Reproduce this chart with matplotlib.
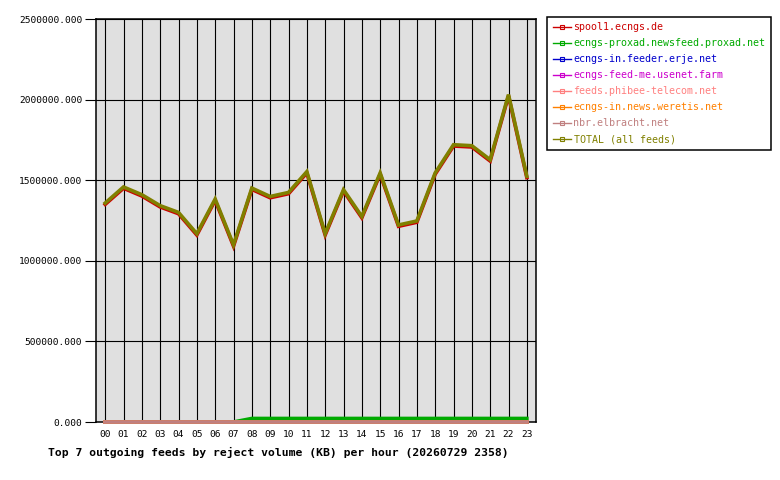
"""Hourly reject volume per outgoing feed, innreport style."""

import matplotlib

matplotlib.use("Agg")
import matplotlib.pyplot as plt
from matplotlib.lines import Line2D
from matplotlib.ticker import FuncFormatter


HOURS = list(range(24))
HOUR_LABELS = [f"{h:02d}" for h in HOURS]

FEEDS = [
    "spool1.ecngs.de",
    "ecngs-proxad.newsfeed.proxad.net",
    "ecngs-in.feeder.erje.net",
    "ecngs-feed-me.usenet.farm",
    "feeds.phibee-telecom.net",
    "ecngs-in.news.weretis.net",
    "nbr.elbracht.net",
    "TOTAL (all feeds)",
]
COLORS = ["#cc0000", "#00aa00", "#0000cc", "#cc00cc",
          "#ff8080", "#ff8000", "#c08080", "#808000"]

total = [1358000, 1458000, 1410000, 1342000, 1300000, 1168000, 1383000, 1099000,
         1451000, 1399000, 1424000, 1553000, 1168000, 1441000, 1275000, 1545000,
         1222000, 1247000, 1545000, 1720000, 1714000, 1627000, 2031000, 1524000]
spool1 = [1350000, 1450000, 1402000, 1334000, 1292000, 1160000, 1375000, 1091000,
          1443000, 1391000, 1416000, 1545000, 1160000, 1433000, 1267000, 1537000,
          1214000, 1239000, 1537000, 1712000, 1706000, 1619000, 2023000, 1516000]
proxad = [0, 0, 0, 0, 0, 0, 0, 0,
          22000, 22000, 22000, 22000, 22000, 22000, 22000, 22000,
          22000, 22000, 22000, 22000, 22000, 22000, 22000, 22000]
erje = [0] * 24
usenet_farm = [0] * 24
phibee = [0] * 24
weretis = [0] * 24
elbracht = [0] * 24

SERIES = [spool1, proxad, erje, usenet_farm, phibee, weretis, elbracht, total]
Y_TICKS = [0, 500000, 1000000, 1500000, 2000000, 2500000]

MONO = "DejaVu Sans Mono"

fig = plt.figure(figsize=(7.8, 4.8), dpi=100, facecolor="white")
ax = fig.add_axes([96 / 780, 58 / 480, 440 / 780, 403 / 480])
ax.set_facecolor("#e0e0e0")

for values, color in zip(SERIES, COLORS):
    ax.plot(HOURS, values, color=color, linewidth=2.6, clip_on=False,
            solid_joinstyle="miter", zorder=3)

ax.set_xlim(-0.5, 23.5)
ax.set_ylim(0, 2500000)
ax.set_xticks(HOURS)
ax.set_xticklabels(HOUR_LABELS, fontfamily=MONO, fontsize=6.8)
ax.set_yticks(Y_TICKS)
ax.yaxis.set_major_formatter(FuncFormatter(lambda v, _: f"{v:.3f}"))
for label in ax.get_yticklabels():
    label.set_fontfamily(MONO)
    label.set_fontsize(6.8)
ax.tick_params(axis="x", length=0, pad=6)
ax.tick_params(axis="y", length=8, width=0.8, pad=2, color="black")
ax.grid(True, color="black", linewidth=0.8)
ax.set_axisbelow(True)
for spine in ax.spines.values():
    spine.set_color("black")
    spine.set_linewidth(1.1)
    spine.set_zorder(2.5)

handles = [
    Line2D([0], [0], color=c, linewidth=1.0, marker="s", markersize=2.5,
           markerfacecolor="none", markeredgewidth=0.8)
    for c in COLORS
]
leg = fig.legend(handles, FEEDS, loc="upper left",
                 bbox_to_anchor=(547 / 780, 1 - 17 / 480),
                 prop={"family": MONO, "size": 7.2},
                 frameon=True, fancybox=False, framealpha=1,
                 edgecolor="black", handlelength=1.8, handletextpad=0.3,
                 labelspacing=0.6, borderpad=0.55, borderaxespad=0)
leg.get_frame().set_linewidth(1.1)
for text, color in zip(leg.get_texts(), COLORS):
    text.set_color(color)

fig.text(278 / 780, 1 - 452 / 480,
         "Top 7 outgoing feeds by reject volume (KB) per hour (20260729 2358)",
         fontfamily=MONO, fontweight="bold", fontsize=8.2,
         ha="center", va="center")

fig.savefig("out.png", dpi=100, facecolor="white")
